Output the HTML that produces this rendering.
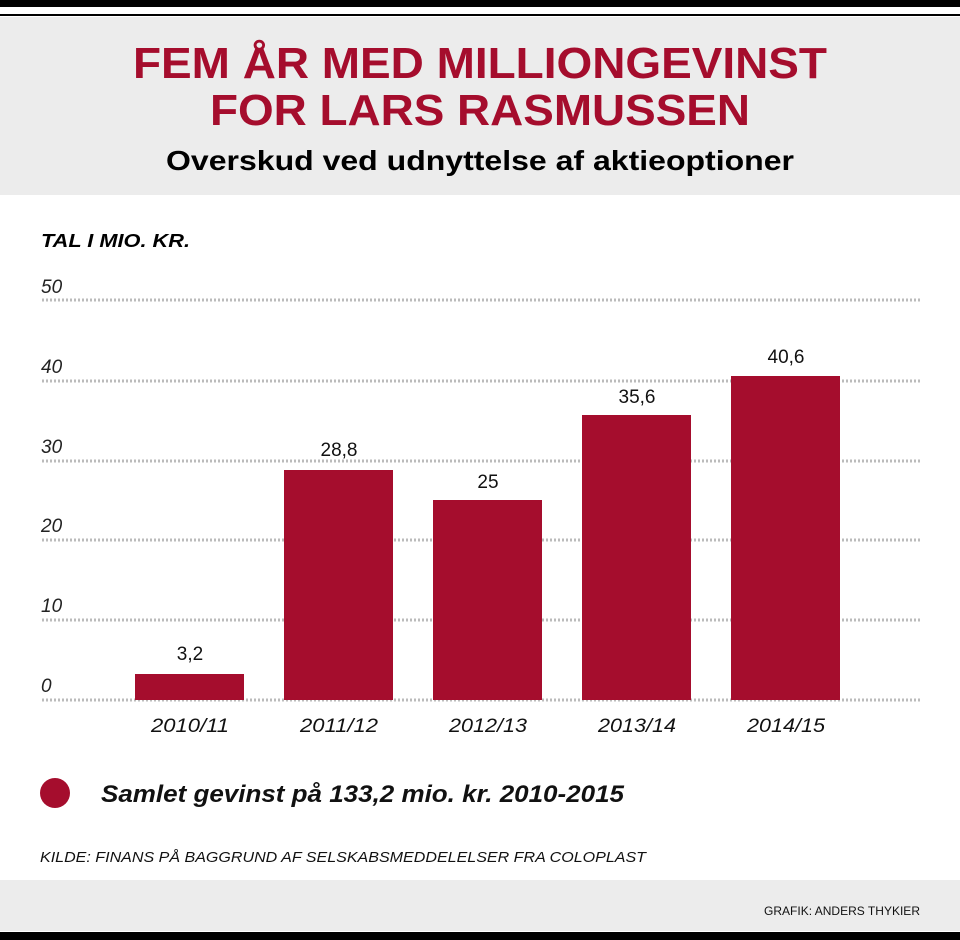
<!DOCTYPE html>
<html><head><meta charset="utf-8"><style>
body{margin:0;background:#fff}
svg{display:block}
text{font-family:"Liberation Sans",Arial,sans-serif}
</style></head><body>
<svg width="960" height="940" viewBox="0 0 960 940">
<rect x="0" y="0" width="960" height="940" fill="#fff"/>
<rect x="0" y="0" width="960" height="7" fill="#000"/>
<rect x="0" y="14" width="960" height="2" fill="#000"/>
<rect x="0" y="17" width="960" height="178" fill="#ececec"/>
<text x="480" y="78" text-anchor="middle" font-size="44" font-weight="bold" fill="#a50d2d" textLength="694" lengthAdjust="spacingAndGlyphs">FEM ÅR MED MILLIONGEVINST</text>
<text x="480" y="125" text-anchor="middle" font-size="44" font-weight="bold" fill="#a50d2d" textLength="540" lengthAdjust="spacingAndGlyphs">FOR LARS RASMUSSEN</text>
<text x="480" y="170" text-anchor="middle" font-size="28" font-weight="bold" fill="#000" textLength="628" lengthAdjust="spacingAndGlyphs">Overskud ved udnyttelse af aktieoptioner</text>
<text x="41" y="247" font-size="18" font-weight="bold" font-style="italic" fill="#000" textLength="149" lengthAdjust="spacingAndGlyphs">TAL I MIO. KR.</text>
<g stroke="#bbb" stroke-width="3" stroke-dasharray="2 2">
<line x1="42" y1="300" x2="920" y2="300"/><line x1="42" y1="381" x2="920" y2="381"/>
<line x1="42" y1="461" x2="920" y2="461"/><line x1="42" y1="540" x2="920" y2="540"/>
<line x1="42" y1="620" x2="920" y2="620"/><line x1="42" y1="700" x2="920" y2="700"/>
</g>
<g font-size="19" font-style="italic" fill="#222">
<text x="41" y="293">50</text><text x="41" y="373">40</text><text x="41" y="453">30</text>
<text x="41" y="532">20</text><text x="41" y="612">10</text><text x="41" y="692">0</text>
</g>
<g fill="#a50d2d">
<rect x="135" y="674" width="109" height="26"/>
<rect x="284" y="470" width="109" height="230"/>
<rect x="433" y="500" width="109" height="200"/>
<rect x="582" y="415" width="109" height="285"/>
<rect x="731" y="376" width="109" height="324"/>
</g>
<g font-size="19" fill="#111" text-anchor="middle">
<text x="190" y="660">3,2</text><text x="339" y="456">28,8</text><text x="488" y="488">25</text>
<text x="637" y="403">35,6</text><text x="786" y="363">40,6</text>
</g>
<g font-size="19" font-style="italic" fill="#111" text-anchor="middle">
<text x="190" y="732" textLength="78" lengthAdjust="spacingAndGlyphs">2010/11</text>
<text x="339" y="732" textLength="78" lengthAdjust="spacingAndGlyphs">2011/12</text>
<text x="488" y="732" textLength="78" lengthAdjust="spacingAndGlyphs">2012/13</text>
<text x="637" y="732" textLength="78" lengthAdjust="spacingAndGlyphs">2013/14</text>
<text x="786" y="732" textLength="78" lengthAdjust="spacingAndGlyphs">2014/15</text>
</g>
<ellipse cx="55" cy="793" rx="15" ry="15" fill="#a50d2d"/>
<text x="101" y="802" font-size="24" font-weight="bold" font-style="italic" fill="#111" textLength="523" lengthAdjust="spacingAndGlyphs">Samlet gevinst på 133,2 mio. kr. 2010-2015</text>
<text x="40" y="862" font-size="15" font-style="italic" fill="#111" textLength="606" lengthAdjust="spacingAndGlyphs">KILDE: FINANS PÅ BAGGRUND AF SELSKABSMEDDELELSER FRA COLOPLAST</text>
<rect x="0" y="880" width="960" height="51" fill="#ececec"/>
<text x="920" y="915" font-size="12" fill="#111" text-anchor="end" textLength="156" lengthAdjust="spacingAndGlyphs">GRAFIK: ANDERS THYKIER</text>
<rect x="0" y="932" width="960" height="8" fill="#000"/>
</svg>
</body></html>
